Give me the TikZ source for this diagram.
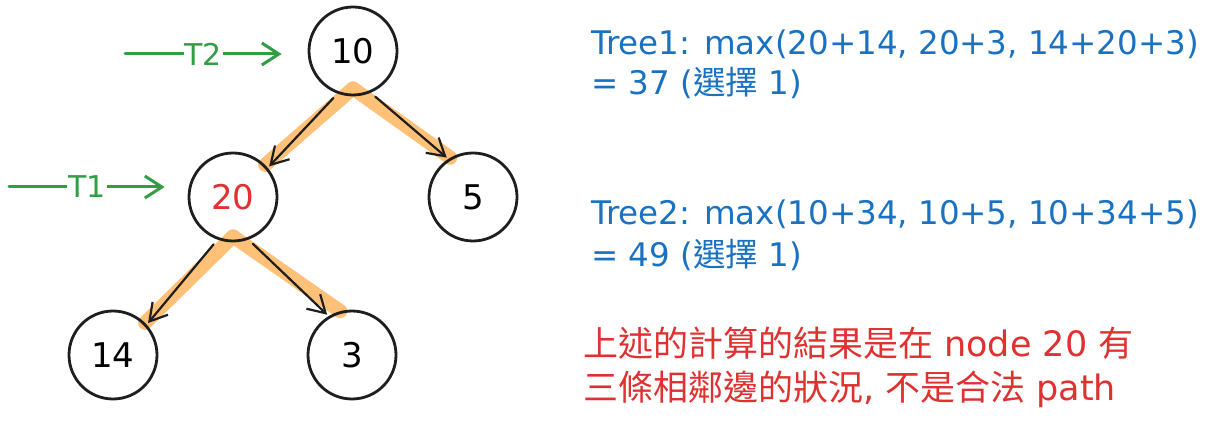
\documentclass[tikz,border=0pt]{standalone}
\usepackage{fontspec}
\setmainfont{DejaVu Sans}
\newfontfamily\cjk{Noto Sans CJK TC}
\usetikzlibrary{arrows.meta,backgrounds}
\definecolor{xblue}{HTML}{1971C2}
\definecolor{xred}{HTML}{E03131}
\definecolor{xgreen}{HTML}{2F9E44}
\definecolor{xorange}{HTML}{FFC078}
\definecolor{xblack}{HTML}{1E1E1E}

\begin{document}
\begin{tikzpicture}[x=1pt,y=-1pt,
	vertex/.style={shape=circle,draw=xblack,line width=2.8pt,minimum size=88pt,inner sep=0pt,font=\fontsize{34}{34}\selectfont},
	glow/.style={draw=xorange,line width=14pt,line cap=round},
	link/.style={draw=xblack,line width=2.2pt,line cap=round,shorten <=6pt,shorten >=2pt,-{Straight Barb[length=17pt,width=20pt]}},
	pointer/.style={draw=xgreen,line width=3pt,line cap=round,-{Straight Barb[length=17pt,width=22pt]}},
	tag/.style={fill=white,text=xgreen,inner xsep=1pt,inner ysep=0pt,font=\fontsize{30}{30}\selectfont}]

		\useasboundingbox (0,0) rectangle (1228,427);

		\node[vertex]            (n10) at (353, 51)  {10};
		\node[vertex,text=xred]  (n20) at (233, 197) {20};
		\node[vertex]            (n5)  at (473, 197) {5};
		\node[vertex]            (n14) at (113, 355) {14};
		\node[vertex]            (n3)  at (352, 355) {3};

		% orange marks under the edges
		\begin{scope}[on background layer]
		\draw[glow] ([yshift=8pt]n10.south) -- (n20.45);
		\draw[glow] ([yshift=8pt]n10.south) -- (n5.120);
		\draw[glow] ([yshift=6pt]n20.south) -- (n14.45);
		\draw[glow] ([yshift=6pt]n20.south) -- (n3.105);
		\end{scope}

		\draw[link] (n10.250) -- (n20.40);
		\draw[link] (n10.-67) -- (n5.123);
		\draw[link] (n20.250) -- (n14.42);
		\draw[link] (n20.-70) -- (n3.121);

		\coordinate (s2) at (125, 54);
		\coordinate (s1) at (9, 187);
		\draw[pointer] (s2) -- ([xshift=-26pt,yshift=-3pt]n10.west) node[tag,midway] {T2};
		\draw[pointer] (s1) -- ([xshift=-23pt,yshift=10pt]n20.west) node[tag,midway] {T1};

		\node[anchor=base west,align=left,inner sep=0pt,text=xblue,font=\fontsize{32.5}{40}\selectfont] (tree1) at (591, 95)
			{Tree1: max(20+14, 20+3, 14+20+3)\\= 37 ({\cjk 選擇} 1)};
		\node[anchor=base west,align=left,inner sep=0pt,text=xblue,font=\fontsize{32.5}{42}\selectfont] (tree2) at (591, 267)
			{Tree2: max(10+34, 10+5, 10+34+5)\\= 49 ({\cjk 選擇} 1)};
		\node[anchor=base west,align=left,inner sep=0pt,text=xred,font=\fontsize{35}{44}\selectfont] (note) at (583, 400)
			{{\cjk 上述的計算的結果是在} node 20 {\cjk 有}\\{\cjk 三條相鄰邊的狀況}, {\cjk 不是合法} path};

\end{tikzpicture}
\end{document}
